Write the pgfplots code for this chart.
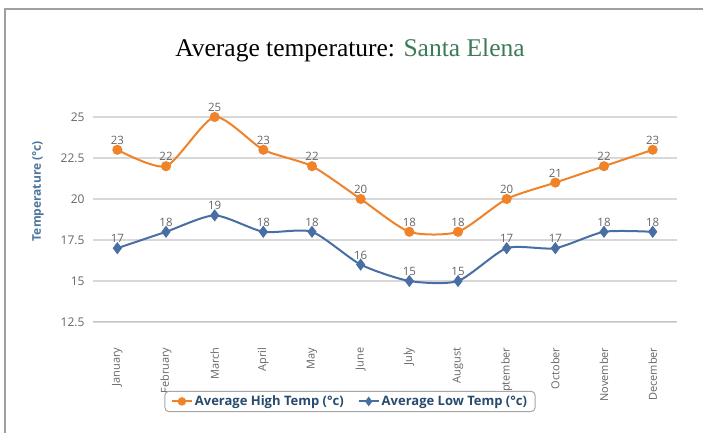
\documentclass[border=0pt]{standalone}
\usepackage{pgfplots}
\pgfplotsset{compat=1.18}
\usepackage{fontspec}
\setmainfont{Open Sans}
\newfontfamily\titlefont{Liberation Serif}
\definecolor{hiorange}{RGB}{240,131,42}
\definecolor{loblue}{RGB}{72,110,164}
\definecolor{titlegreen}{RGB}{61,122,87}
\definecolor{ticklab}{RGB}{102,102,102}
\definecolor{ytitle}{RGB}{77,117,158}
\definecolor{legtext}{RGB}{39,75,109}
\definecolor{gridc}{RGB}{216,216,216}
\begin{document}
\begin{tikzpicture}[x=1bp,y=1bp]
\useasboundingbox (0,0) rectangle (703,433);
\fill[white] (0,0) rectangle (703,433);
\draw[gray!75, line width=2bp] (5,0) -- (5,424) -- (703,424);
\node[font=\titlefont\fontsize{25.5bp}{28bp}\selectfont, anchor=base] at (350,376)
  {Average temperature: \textcolor{titlegreen}{Santa Elena}};
\begin{axis}[
  at={(93bp,111bp)}, anchor=south west,
  scale only axis, width=584bp, height=229.6bp,
  xmin=-0.5, xmax=11.5, ymin=12.5, ymax=26.5,
  /pgf/number format/assume math mode=true,
  axis x line*=bottom, axis y line*=left,
  x axis line style={-, draw=gridc!80!gray, line width=1bp},
  y axis line style={draw=none},
  ytick={12.5,15,17.5,20,22.5,25},
  yticklabels={12.5,15,17.5,20,22.5,25},
  ytick style={draw=none},
  ymajorgrids, grid style={gridc, line width=1.2bp},
  xtick={0,...,11},
  xticklabels={January,February,March,April,May,June,July,August,September,October,November,December},
  xtick style={draw=none},
  extra x ticks={-0.5,0.5,...,11.5},
  extra x tick labels={},
  extra x tick style={grid=none, tick align=outside, major tick length=5bp, tick style={draw=gridc!80!gray, line width=1bp}},
  xticklabel style={font=\fontsize{11bp}{12bp}\selectfont, text=ticklab, yshift=-22bp, rotate=90, anchor=east},
  yticklabel style={font=\fontsize{12bp}{14bp}\selectfont, text=ticklab, xshift=-5bp},
  ylabel={Temperature (°c)},
  ylabel style={at={(axis description cs:0,0.57)}, yshift=55bp, anchor=center, font=\bfseries\fontsize{12bp}{14bp}\selectfont, text=ytitle},
  nodes near coords,
  nodes near coords style={font=\fontsize{11.5bp}{13bp}\selectfont, text=ticklab, anchor=south, yshift=1bp},
  legend columns=2,
  legend style={at={(axis description cs:0.44,-0.346)}, anchor=center, draw=gray!70, line width=1bp, rounded corners=4bp, fill=white,
    font=\bfseries\fontsize{13bp}{15bp}\selectfont, text=legtext, inner xsep=6bp, inner ysep=2.5bp,
    /tikz/every even column/.append style={column sep=12bp}},
  legend image code/.code={\draw[#1] (0bp,0bp) -- (10bp,0bp) -- (20bp,0bp); \draw[#1, mark repeat=2, mark phase=2, mark size=3.2bp] plot coordinates {(0bp,0bp) (10bp,0bp) (20bp,0bp)};},
]
\addplot[color=hiorange, line width=2bp, smooth, tension=0.4, mark=*, mark size=4bp, mark options={solid, fill=hiorange, draw=hiorange}]
  coordinates {(0,23) (1,22) (2,25) (3,23) (4,22) (5,20) (6,18) (7,18) (8,20) (9,21) (10,22) (11,23)};
\addlegendentry{Average High Temp (°c)}
\addplot[color=loblue, line width=2bp, smooth, tension=0.4, mark=diamond*, mark size=4.5bp, mark options={solid, fill=loblue, draw=loblue}]
  coordinates {(0,17) (1,18) (2,19) (3,18) (4,18) (5,16) (6,15) (7,15) (8,17) (9,17) (10,18) (11,18)};
\addlegendentry{Average Low Temp (°c)}
\end{axis}
\end{tikzpicture}
\end{document}
